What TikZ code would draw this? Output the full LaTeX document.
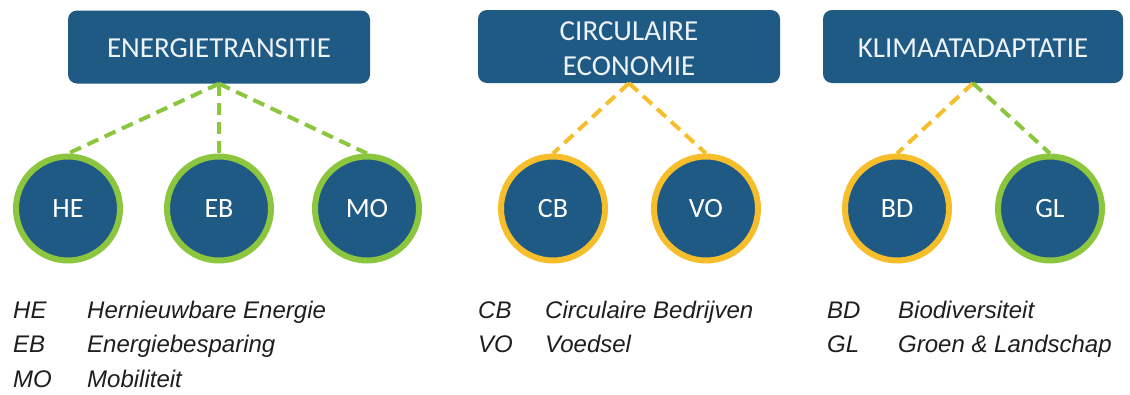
\documentclass[tikz,border=0pt]{standalone}
\usepackage{fontspec}
\setmainfont{Carlito}
\newfontfamily\legendfont{Liberation Sans}
\definecolor{nodeblue}{HTML}{1F5A85}
\definecolor{limegreen}{HTML}{8CC63F}
\definecolor{goldy}{HTML}{F7BE2B}
\definecolor{boxtext}{HTML}{EEF3F7}
\definecolor{legendtext}{HTML}{1E1E1E}
\tikzset{
  topbox/.style={fill=nodeblue, rounded corners=9pt, minimum height=73pt, inner sep=0pt,
    text=boxtext, font=\fontsize{29}{35}\selectfont, align=center},
  circ/.style={circle, fill=nodeblue, line width=6pt, minimum size=104pt, inner sep=0pt,
    text=white, font=\fontsize{28}{30}\selectfont},
  greencirc/.style={circ, draw=limegreen},
  goldcirc/.style={circ, draw=goldy},
  link/.style={line width=4pt, dash pattern=on 12pt off 7pt},
  greenlink/.style={link, draw=limegreen},
  goldlink/.style={link, draw=goldy},
  legend/.style={anchor=base west, inner sep=0pt, text=legendtext,
    font=\legendfont\itshape\fontsize{24}{28}\selectfont},
}
\begin{document}
\begin{tikzpicture}[x=1pt,y=-1pt]
\useasboundingbox (0,0) rectangle (1130,394);
% top boxes
\node[topbox, minimum width=302pt] (et) at (219,47) {\rule{0pt}{21pt}ENERGIETRANSITIE};
\node[topbox, minimum width=302pt] (ce) at (629,46.5) {\rule{0pt}{23.5pt}CIRCULAIRE\\ECONOMIE};
\node[topbox, minimum width=300pt] (ka) at (973,46.5) {\rule{0pt}{21pt}KLIMAATADAPTATIE};
% circles
\node[greencirc] (he) at (68,208.5) {HE};
\node[greencirc] (eb) at (219,208.5) {EB};
\node[greencirc] (mo) at (367,208.5) {MO};
\node[goldcirc] (cb) at (553,208.5) {CB};
\node[goldcirc] (vo) at (706,208.5) {VO};
\node[goldcirc] (bd) at (897,208.5) {BD};
\node[greencirc] (gl) at (1050,208.5) {GL};
% connectors
\draw[greenlink] (et.south) -- (he.north);
\draw[greenlink] (et.south) -- (eb.north);
\draw[greenlink] (et.south) -- (mo.north);
\draw[goldlink] (ce.south) -- (cb.north);
\draw[goldlink] (ce.south) -- (vo.north);
\draw[goldlink] (ka.south) -- (bd.north);
\draw[greenlink] (ka.south) -- (gl.north);
% legend
\node[legend] (l1a) at (13,318) {HE};
\node[legend] (l1b) at (87,318) {Hernieuwbare Energie};
\node[legend] (l2a) at (13,352.5) {EB};
\node[legend] (l2b) at (87,352.5) {Energiebesparing};
\node[legend] (l3a) at (13,387) {MO};
\node[legend] (l3b) at (87,387) {Mobiliteit};
\node[legend] (l4a) at (478,318) {CB};
\node[legend] (l4b) at (545,318) {Circulaire Bedrijven};
\node[legend] (l5a) at (478,352.5) {VO};
\node[legend] (l5b) at (545,352.5) {Voedsel};
\node[legend] (l6a) at (827,318) {BD};
\node[legend] (l6b) at (898,318) {Biodiversiteit};
\node[legend] (l7a) at (827,352.5) {GL};
\node[legend] (l7b) at (898,352.5) {Groen \& Landschap};
\end{tikzpicture}
\end{document}
